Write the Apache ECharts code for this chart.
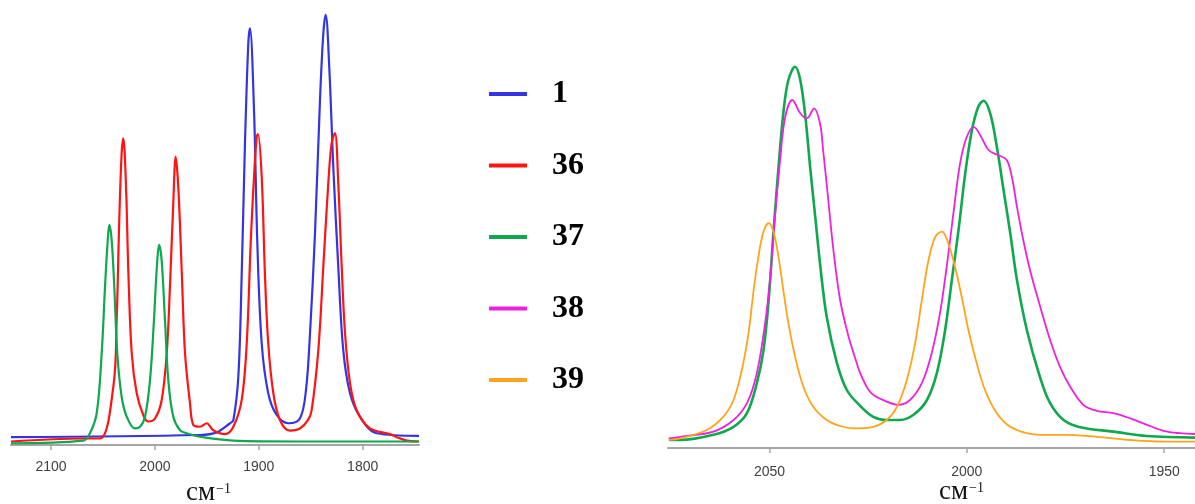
<!DOCTYPE html>
<html>
<head>
<meta charset="utf-8">
<script src="https://cdn.jsdelivr.net/npm/echarts@6/dist/echarts.min.js"></script>
<style>
html,body{margin:0;padding:0;background:#fff;}
#c{width:1195px;height:504px;}
</style>
</head>
<body>
<div id="c"></div>
<script>
// Left panel: wavenumber (cm-1), relative absorbance (0-100)
const leftTicks = [1800, 1900, 2000, 2100];
const rightTicks = [1950, 2000, 2050];
const legendNames = ['1', '36', '37', '38', '39'];
const unitMain = 'см';
const unitSup = '−1';

const blueL = [[2138.5,1.8],[1956.6,2.3],[1940.5,2.9],[1927.7,5.0],[1924.5,5.7],[1919.7,15.7],[1916.5,38.7],[1913.3,69.4],[1910.1,92.3],[1908.5,95.8],[1904.6,77.0],[1901.4,46.4],[1897.2,23.4],[1890.9,11.9],[1882.8,6.9],[1871.6,5.0],[1860.4,6.1],[1854.6,12.6],[1850.7,25.7],[1845.9,48.7],[1841.1,79.3],[1837.9,94.6],[1835.6,98.9],[1832.2,87.0],[1828.3,64.0],[1823.5,41.0],[1818.7,21.8],[1812.2,11.9],[1802.6,6.5],[1786.5,2.7],[1745.8,2.1]];

const redL = [[2138.5,0.8],[2068.9,1.5],[2052.8,1.5],[2040.0,13.4],[2036.8,28.7],[2034.3,51.7],[2032.0,67.1],[2030.4,70.5],[2027.8,59.4],[2025.6,40.2],[2022.3,21.1],[2017.5,11.9],[2011.2,6.9],[2006.4,5.4],[1999.9,6.1],[1993.5,10.3],[1988.6,21.1],[1985.5,36.4],[1982.3,55.6],[1980.0,66.3],[1977.5,59.4],[1974.2,40.2],[1971.0,21.1],[1966.2,9.6],[1963.0,4.6],[1956.6,4.2],[1950.1,5.0],[1943.8,3.4],[1932.5,2.5],[1924.5,4.2],[1916.5,10.3],[1911.6,23.4],[1907.8,46.4],[1904.6,61.7],[1902.0,70.9],[1900.8,71.5],[1897.2,61.7],[1894.0,38.7],[1890.9,23.4],[1886.0,11.9],[1879.6,5.7],[1870.0,3.3],[1860.4,3.8],[1852.7,5.7],[1849.1,8.0],[1842.7,21.8],[1837.9,41.0],[1833.1,60.2],[1829.9,69.4],[1826.7,71.7],[1823.5,60.2],[1820.2,41.0],[1817.0,25.7],[1812.2,14.2],[1805.8,8.0],[1793.0,3.8],[1773.7,2.5],[1767.3,1.8],[1757.7,1.0],[1745.8,0.8]];

const greenL = [[2138.5,0.4],[2068.9,1.0],[2062.5,2.7],[2056.0,7.3],[2051.2,21.1],[2048.0,36.4],[2045.4,47.1],[2043.9,50.6],[2041.6,47.1],[2039.1,36.4],[2036.2,21.1],[2032.0,11.1],[2027.1,6.5],[2019.2,3.8],[2014.3,4.2],[2009.5,6.5],[2004.7,14.9],[2000.9,28.7],[1998.3,40.2],[1996.0,46.0],[1993.5,42.5],[1990.3,28.7],[1987.1,14.9],[1982.3,6.5],[1975.8,3.4],[1969.4,2.7],[1956.6,1.9],[1924.5,1.0],[1860.4,0.8],[1745.8,0.8]];

// Right panel
const greenR = [[2075.5,2.0],[2072.6,2.0],[2064.2,3.3],[2059.1,5.3],[2055.7,8.7],[2053.2,16.2],[2051.5,24.5],[2050.2,37.0],[2049.0,53.7],[2047.7,70.3],[2046.4,84.5],[2045.2,92.0],[2043.5,95.3],[2042.2,92.0],[2040.9,82.8],[2039.7,70.3],[2038.4,57.8],[2037.1,45.3],[2035.5,32.8],[2032.9,21.2],[2030.4,14.5],[2027.0,10.5],[2023.7,7.8],[2020.3,7.0],[2016.9,7.0],[2013.5,8.3],[2010.1,12.0],[2007.6,18.7],[2005.5,29.5],[2003.8,42.0],[2002.1,54.5],[2000.4,68.7],[1998.7,79.5],[1997.1,85.3],[1995.8,86.8],[1994.1,83.7],[1992.4,75.3],[1990.7,64.5],[1989.0,53.7],[1987.3,42.0],[1984.8,29.5],[1981.4,17.5],[1978.9,11.2],[1975.5,7.0],[1971.3,5.2],[1962.9,4.1],[1954.4,3.0],[1942.2,2.6]];

const magentaR = [[2075.5,2.4],[2072.6,2.8],[2064.2,4.1],[2059.1,7.0],[2055.7,11.2],[2053.2,18.7],[2051.1,31.2],[2049.8,42.8],[2048.6,57.8],[2047.3,72.0],[2046.0,82.8],[2044.2,87.0],[2042.2,83.7],[2040.5,82.4],[2038.7,84.9],[2037.2,81.2],[2036.4,74.5],[2035.1,62.0],[2033.8,49.5],[2032.1,37.0],[2030.0,28.0],[2028.3,22.5],[2026.7,18.0],[2024.2,13.7],[2020.3,11.6],[2017.3,10.8],[2014.4,12.0],[2011.4,16.2],[2008.9,23.7],[2006.8,33.7],[2005.1,45.3],[2003.4,58.7],[2001.7,71.2],[2000.0,77.8],[1998.2,80.2],[1996.6,78.2],[1994.5,74.5],[1992.0,73.2],[1989.9,72.0],[1988.6,67.8],[1987.3,60.3],[1985.7,52.0],[1984.0,44.5],[1981.4,35.3],[1978.9,27.0],[1976.4,20.3],[1973.8,15.3],[1970.5,10.8],[1967.1,9.3],[1962.9,8.7],[1958.6,7.4],[1954.4,5.8],[1950.2,4.3],[1946.0,3.7],[1942.2,3.5]];

const orangeR = [[2075.5,2.0],[2072.6,2.4],[2065.9,4.5],[2061.7,7.8],[2059.1,12.0],[2057.0,19.5],[2055.3,28.7],[2054.0,39.5],[2052.8,47.8],[2051.5,54.1],[2050.2,56.2],[2049.0,54.1],[2047.7,47.8],[2046.5,39.5],[2045.2,31.2],[2043.5,22.8],[2041.4,15.3],[2038.9,10.3],[2035.5,7.0],[2032.1,5.5],[2028.7,4.9],[2023.7,5.3],[2020.3,7.0],[2017.7,10.3],[2015.2,17.0],[2013.1,26.2],[2011.4,37.0],[2009.7,47.0],[2008.0,52.8],[2006.3,54.1],[2004.7,51.2],[2003.0,45.3],[2001.3,37.8],[1999.6,29.5],[1997.5,21.2],[1995.4,14.5],[1992.4,8.7],[1989.0,5.3],[1984.8,3.7],[1981.4,3.3],[1975.5,3.3],[1967.1,2.8],[1958.6,2.0],[1950.2,1.6],[1942.2,1.6]];

const colors = {b:'#3434e4', r:'#ff1414', g:'#0fa84e', m:'#ee22dc', o:'#ffa31a'};

function axisX(idx, min, max, ticks, labelMargin){
  return {
    type:'value', gridIndex: idx, inverse: true, min: min, max: max,
    splitLine:{show:false},
    axisLine:{show:true, onZero:false, lineStyle:{color:'#a6a6a6', width:2}},
    axisTick:{show:true, length:5, customValues: ticks, lineStyle:{color:'#a6a6a6', width:1.5}},
    axisLabel:{customValues: ticks, margin: labelMargin, fontFamily:'Liberation Sans', fontSize:14, color:'#404040',
      formatter: function(v){ return String(v); }}
  };
}

function line(name, data, color, w, xi){
  return {name:name, type:'line', xAxisIndex:xi, yAxisIndex:xi, data:data, showSymbol:false, symbol:'none',
    smooth:0.35, lineStyle:{color:color, width:w}, itemStyle:{color:color}, z: 2};
}

function unitLabel(xMain, yMain, xSup, ySup){
  return [
    {type:'text', left:xMain, top:yMain, style:{text:unitMain, font:'27px "Liberation Serif"', fill:'#111'}},
    {type:'text', left:xSup, top:ySup, style:{text:unitSup, font:'14px "Liberation Serif"', fill:'#111'}}
  ];
}

const chart = echarts.init(document.getElementById('c'), null, {renderer:'canvas'});
chart.setOption({
  animation:false,
  backgroundColor:'#fff',
  grid:[
    {left:11, width:408, top:10, height:435, outerBoundsMode:'none', containLabel:false},
    {left:668, right:0, top:48, height:400, outerBoundsMode:'none', containLabel:false}
  ],
  xAxis:[
    axisX(0, 1745.8, 2138.5, leftTicks, 15),
    axisX(1, 1942.2, 2075.7, rightTicks, 17)
  ],
  yAxis:[
    {type:'value', gridIndex:0, min:0, max:100, show:false},
    {type:'value', gridIndex:1, min:0, max:100, show:false}
  ],
  graphic: unitLabel(186, 479, 216, 482).concat(unitLabel(939, 478, 969, 481)),
  legend:{
    data: legendNames.map(n=>({name:n, icon:'rect'})),
    orient:'vertical', left:489, top:78, padding:0, itemGap:39.5,
    itemWidth:38, itemHeight:4, selectedMode:false,
    textStyle:{fontFamily:'Liberation Serif', fontWeight:'bold', fontSize:32, color:'#000', lineHeight:32, padding:[0,0,0,20]}
  },
  series:[
    line('1', blueL, colors.b, 2.2, 0),
    line('36', redL, colors.r, 2.2, 0),
    line('37', greenL, colors.g, 2.2, 0),
    line('37', greenR, colors.g, 2.6, 1),
    line('38', magentaR, colors.m, 1.8, 1),
    line('39', orangeR, colors.o, 1.8, 1)
  ]
});
</script>
</body>
</html>
